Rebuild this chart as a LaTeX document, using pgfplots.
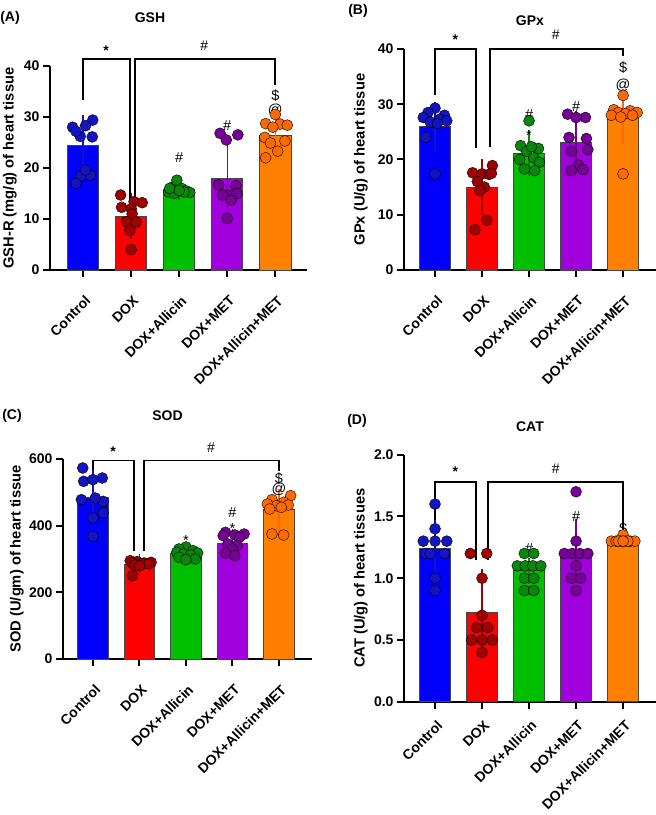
\documentclass[border=0pt]{standalone}
\usepackage{fontspec}
\setmainfont{Liberation Sans}
\usepackage{pgfplots}
\pgfplotsset{compat=1.18}

\definecolor{cblue}{RGB}{0,0,255}
\definecolor{dblue}{RGB}{20,20,195}
\definecolor{cred}{RGB}{255,0,0}
\definecolor{dred}{RGB}{160,0,0}
\definecolor{cgreen}{RGB}{0,190,0}
\definecolor{dgreen}{RGB}{10,135,10}
\definecolor{cpurple}{RGB}{160,0,220}
\definecolor{dpurple}{RGB}{120,0,150}
\definecolor{corange}{RGB}{255,128,0}
\definecolor{dorange}{RGB}{255,105,0}
\definecolor{edge}{RGB}{70,70,70}

\newcommand{\fs}{\fontsize{14}{16}\selectfont}
\newcommand{\fl}{\fontsize{14.7}{16}\selectfont}
\newcommand{\fa}{\fontsize{14.5}{16}\selectfont}

\pgfplotsset{
  panel/.style={
    scale only axis, anchor=south west, clip=false,
    axis x line*=bottom, axis y line*=left,
    axis line style={line width=2.1pt, black},
    every tick/.style={line width=2pt, black},
    tick align=outside, major tick length=7pt,
    xtick={0,1,2,3,4},
    xticklabels={Control,DOX,DOX+Allicin,DOX+MET,DOX+Allicin+MET},
    x tick label style={rotate=45, xshift=-10.6pt, yshift=-18.5pt, anchor=east, font=\bfseries\fs, inner sep=1pt},
    y tick label style={font=\bfseries\fs},
    /pgf/number format/assume math mode=true,
    ymin=0,
    title style={font=\bfseries\fs, anchor=center},
    every axis y label/.style={rotate=90, anchor=center, font=\bfseries\fl},
  },
  barA/.style={ybar, bar shift=0pt, bar width=0.65, draw=edge, line width=0.8pt},
  dots/.style={only marks, mark=*, mark size=5.5pt, mark options={draw=none, fill=#1}},
  err/.style={draw=none, mark=none, forget plot, error bars/.cd, y dir=both, y explicit,
     error bar style={line width=1.5pt, draw=#1}, error mark options={line width=1.5pt, draw=#1, mark size=7pt}},
}

\begin{document}
\begin{tikzpicture}
\useasboundingbox (0,0) rectangle (656pt,815pt);

% ---------------- (A) GSH
\begin{axis}[panel, at={(50pt,545pt)}, width=257pt, height=204pt,
  xmin=-0.69, xmax=4.66, ymax=40, ytick={0,10,20,30,40},
  title={GSH}, title style={at={(axis description cs:0.389,1.205)}},
  ylabel={GSH-R (mg/g) of heart tissue}, ylabel style={at={(axis description cs:-0.156,0.5)}}]
\addplot[barA, fill=cblue] coordinates {(0,24.4)};
\addplot[barA, fill=cred] coordinates {(1,10.6)};
\addplot[barA, fill=cgreen] coordinates {(2,15.8)};
\addplot[barA, fill=cpurple] coordinates {(3,17.9)};
\addplot[barA, fill=corange] coordinates {(4,26.3)};
\addplot[dots=dblue] coordinates {(-0.22,28.0) (0.20,29.4) (0.05,28.3) (-0.06,26.2) (0.19,26.1) (-0.15,27.2) (0.15,18.6) (-0.05,18.4) (-0.15,17.0) (0.05,19.6)};
\addplot[dots=dred] coordinates {(0.78,14.7) (1.06,13.4) (1.23,13.2) (0.80,12.3) (1.0,12.0) (1.02,11.0) (0.9,9.5) (1.1,9.4) (0.97,7.8) (1.0,4.0)};
\addplot[dots=dgreen] coordinates {(1.78,15.3) (1.85,16.2) (1.95,17.6) (2.05,16.0) (2.15,15.5) (2.22,15.2) (1.9,15.0) (2.1,15.3) (2.0,15.6) (1.8,16.0)};
\addplot[dots=dpurple] coordinates {(2.85,26.8) (3.22,26.5) (2.98,25.5) (2.82,16.7) (3.18,16.5) (3.0,14.7) (2.9,14.7) (3.2,15.0) (3.08,13.7) (3.0,10.1)};
\addplot[dots=dorange] coordinates {(4.0,30.5) (3.8,28.7) (4.1,28.6) (4.25,28.4) (3.95,28.0) (3.78,26.0) (4.2,25.3) (3.9,24.9) (4.05,23.3) (3.8,22.0)};
\addplot[err=dblue] coordinates {(0,24.4) +- (0,4.7)};
\addplot[err=dred] coordinates {(1,10.6) +- (0,3.2)};
\addplot[err=dgreen] coordinates {(2,15.8) +- (0,0.8)};
\addplot[err=dpurple] coordinates {(3,17.9) +- (0,6.0)};
\addplot[err=dorange] coordinates {(4,26.3) +- (0,3.4)};
\draw[line width=1.6pt] (axis cs:0,33.3) -- (axis cs:0,41.4) -- (axis cs:0.98,41.4) -- (axis cs:0.98,13.7);
\draw[line width=1.6pt] (axis cs:1.08,13.7) -- (axis cs:1.08,41.4) -- (axis cs:4,41.4) -- (axis cs:4,36.3);
\node[font=\bfseries\fs] at (axis cs:0.48,43.0) {*};
\node[font=\fs] at (axis cs:2.52,43.9) {\#};
\node[font=\fa] at (axis cs:2,22) {\#};
\node[font=\fa] at (axis cs:2,17.6) {*};
\node[font=\fa] at (axis cs:3,28.4) {\#};
\node[font=\fa] at (axis cs:3,24.8) {*};
\node[font=\fa] at (axis cs:4,31.4) {@};
\node[font=\fa] at (axis cs:4,34.2) {\$};
\end{axis}

% ---------------- (B) GPx
\begin{axis}[panel, at={(404pt,545pt)}, width=252pt, height=221pt,
  xmin=-0.66, xmax=4.70, ymax=40, ytick={0,10,20,30,40},
  title={GPx}, title style={at={(axis description cs:0.5,1.10)}},
  ylabel={GPx (U/g) of heart tissue}, ylabel style={at={(axis description cs:-0.171,0.5)}}]
\addplot[barA, fill=cblue] coordinates {(0,26.0)};
\addplot[barA, fill=cred] coordinates {(1,15.0)};
\addplot[barA, fill=cgreen] coordinates {(2,21.1)};
\addplot[barA, fill=cpurple] coordinates {(3,23.1)};
\addplot[barA, fill=corange] coordinates {(4,27.8)};
\addplot[dots=dblue] coordinates {(0.0,29.3) (-0.15,28.5) (0.2,28.0) (-0.25,27.6) (0.1,27.3) (0.25,27.0) (-0.1,26.8) (0.05,26.5) (-0.2,24.0) (0.0,17.4)};
\addplot[dots=dred] coordinates {(1.22,18.9) (0.8,17.6) (1.0,17.4) (1.15,17.3) (0.9,16.0) (1.05,15.0) (0.95,14.4) (1.1,9.0) (0.85,7.3) (1.2,17.5)};
\addplot[dots=dgreen] coordinates {(2.0,27.0) (1.82,22.5) (2.2,22.0) (1.95,21.5) (2.1,20.3) (1.8,20.0) (2.22,19.5) (1.9,18.3) (2.12,18.0) (2.05,22.3)};
\addplot[dots=dpurple] coordinates {(2.82,28.2) (3.2,27.6) (3.0,27.6) (2.85,24.0) (3.22,23.8) (3.25,21.8) (2.9,21.5) (3.05,19.0) (2.9,18.0) (3.15,18.2)};
\addplot[dots=dorange] coordinates {(4.0,31.6) (3.8,29.0) (4.15,28.8) (4.3,28.5) (3.9,28.5) (4.05,28.3) (3.75,28.0) (4.2,28.0) (3.95,27.7) (4.0,17.4)};
\addplot[err=dblue] coordinates {(0,26.0) +- (0,3.2)};
\addplot[err=dred] coordinates {(1,15.0) +- (0,3.8)};
\addplot[err=dgreen] coordinates {(2,21.1) +- (0,2.9)};
\addplot[err=dpurple] coordinates {(3,23.1) +- (0,4.4)};
\addplot[err=dorange] coordinates {(4,27.8) +- (0,3.7)};
\draw[line width=1.6pt] (axis cs:0,31.7) -- (axis cs:0,40) -- (axis cs:0.87,40) -- (axis cs:0.87,22);
\draw[line width=1.6pt] (axis cs:1.17,22.3) -- (axis cs:1.17,40) -- (axis cs:4,40) -- (axis cs:4,38.8);
\node[font=\bfseries\fs] at (axis cs:0.43,41.6) {*};
\node[font=\fs] at (axis cs:2.57,42.5) {\#};
\node[font=\fa] at (axis cs:2,28.1) {\#};
\node[font=\fa] at (axis cs:2,24.3) {*};
\node[font=\fa] at (axis cs:3,29.6) {\#};
\node[font=\fa] at (axis cs:4,33.5) {@};
\node[font=\fa] at (axis cs:4,36.6) {\$};
\end{axis}

% ---------------- (C) SOD
\begin{axis}[panel, at={(63pt,156pt)}, width=249pt, height=200pt,
  xmin=-0.645, xmax=4.71, ymax=600, ytick={0,200,400,600},
  title={SOD}, title style={at={(axis description cs:0.42,1.185)}},
  ylabel={SOD (U/gm) of heart tissue}, ylabel style={at={(axis description cs:-0.185,0.5)}}]
\addplot[barA, fill=cblue] coordinates {(0,485)};
\addplot[barA, fill=cred] coordinates {(1,285)};
\addplot[barA, fill=cgreen] coordinates {(2,316)};
\addplot[barA, fill=cpurple] coordinates {(3,348)};
\addplot[barA, fill=corange] coordinates {(4,448)};
\addplot[dots=dblue] coordinates {(-0.22,573) (0.2,543) (-0.2,533) (0.0,538) (-0.25,478) (0.22,473) (0.05,483) (0.22,438) (0.0,423) (0.0,368)};
\addplot[dots=dred] coordinates {(0.8,295) (0.95,292) (1.25,290) (1.1,288) (0.85,288) (1.05,286) (1.2,285) (0.9,282) (1.0,280) (0.85,250)};
\addplot[dots=dgreen] coordinates {(2.0,336) (1.85,330) (2.15,325) (1.8,320) (2.25,318) (1.95,315) (2.1,312) (1.85,305) (2.2,300) (2.0,298)};
\addplot[dots=dpurple] coordinates {(2.85,380) (3.25,375) (3.05,372) (2.8,370) (3.15,365) (2.9,345) (3.1,340) (3.0,330) (2.85,318) (3.05,310)};
\addplot[dots=dorange] coordinates {(4.25,490) (3.85,478) (4.1,470) (3.75,465) (4.2,462) (3.95,460) (4.05,455) (3.8,450) (3.85,375) (4.1,372)};
\addplot[err=dblue] coordinates {(0,485) +- (0,62)};
\addplot[err=dred] coordinates {(1,285) +- (0,10)};
\addplot[err=dgreen] coordinates {(2,316) +- (0,15)};
\addplot[err=dpurple] coordinates {(3,348) +- (0,20)};
\addplot[err=dorange] coordinates {(4,448) +- (0,42)};
\draw[line width=1.6pt] (axis cs:0,568) -- (axis cs:0,596) -- (axis cs:0.88,596) -- (axis cs:0.88,323);
\draw[line width=1.6pt] (axis cs:1.1,323) -- (axis cs:1.1,596) -- (axis cs:4,596) -- (axis cs:4,563);
\node[font=\bfseries\fs] at (axis cs:0.43,622) {*};
\node[font=\fs] at (axis cs:2.54,633) {\#};
\node[font=\fa] at (axis cs:2,356) {*};
\node[font=\fa] at (axis cs:3,438) {\#};
\node[font=\fa] at (axis cs:3,391) {*};
\node[font=\fa] at (axis cs:4,508) {@};
\node[font=\fa] at (axis cs:4,540) {\$};
\end{axis}

% ---------------- (D) CAT
\begin{axis}[panel, at={(404pt,113.3pt)}, width=252pt, height=247pt,
  xmin=-0.66, xmax=4.70, ymax=2, ytick={0,0.5,1,1.5,2},
  x tick label style={xshift=5pt, yshift=5pt},
  yticklabel style={/pgf/number format/.cd, fixed, fixed zerofill, precision=1},
  title={CAT}, title style={at={(axis description cs:0.5,1.088)}},
  ylabel={CAT (U/g) of heart tissues}, ylabel style={at={(axis description cs:-0.171,0.5)}}]
\addplot[barA, fill=cblue] coordinates {(0,1.24)};
\addplot[barA, fill=cred] coordinates {(1,0.72)};
\addplot[barA, fill=cgreen] coordinates {(2,1.06)};
\addplot[barA, fill=cpurple] coordinates {(3,1.22)};
\addplot[barA, fill=corange] coordinates {(4,1.31)};
\addplot[dots=dblue] coordinates {(0.0,1.6) (0.0,1.4) (-0.25,1.3) (0.0,1.3) (0.25,1.3) (-0.2,1.2) (0.2,1.2) (0.0,1.0) (0.0,0.9) (-0.1,1.2)};
\addplot[dots=dred] coordinates {(0.75,1.2) (1.1,1.2) (1.0,1.0) (1.0,0.7) (0.88,0.6) (1.12,0.6) (0.78,0.5) (1.0,0.5) (1.22,0.5) (1.0,0.4)};
\addplot[dots=dgreen] coordinates {(1.9,1.2) (2.1,1.2) (1.75,1.1) (1.92,1.1) (2.08,1.1) (2.25,1.1) (1.9,1.0) (2.1,1.0) (1.9,0.9) (2.1,0.9)};
\addplot[dots=dpurple] coordinates {(3.0,1.7) (3.0,1.3) (2.75,1.2) (2.92,1.2) (3.08,1.2) (3.25,1.2) (3.0,1.1) (2.9,1.0) (3.1,1.0) (3.0,0.9)};
\addplot[dots=dorange] coordinates {(4.0,1.35) (3.75,1.3) (3.85,1.3) (3.95,1.3) (4.05,1.3) (4.15,1.3) (4.25,1.3) (3.9,1.3) (4.1,1.3) (4.0,1.3)};
\addplot[err=dblue] coordinates {(0,1.24) +- (0,0.2)};
\addplot[err=dred] coordinates {(1,0.72) +- (0,0.3)};
\addplot[err=dgreen] coordinates {(2,1.06) +- (0,0.05)};
\addplot[err=dpurple] coordinates {(3,1.22) +- (0,0.2)};
\addplot[err=dorange] coordinates {(4,1.31) +- (0,0.02)};
\draw[line width=1.6pt] (axis cs:0,1.47) -- (axis cs:0,1.78) -- (axis cs:0.87,1.78) -- (axis cs:0.87,1.15);
\draw[line width=1.6pt] (axis cs:1.13,1.15) -- (axis cs:1.13,1.78) -- (axis cs:4,1.78) -- (axis cs:4,1.34);
\node[font=\bfseries\fs] at (axis cs:0.43,1.86) {*};
\node[font=\fs] at (axis cs:2.57,1.89) {\#};
\node[font=\fa] at (axis cs:2,1.24) {\#};
\node[font=\fa] at (axis cs:3,1.5) {\#};
\node[font=\fa] at (axis cs:4,1.405) {\$};
\end{axis}

\node[font=\bfseries\fs] at (10pt,797pt) {(A)};
\node[font=\bfseries\fs] at (358pt,804pt) {(B)};
\node[font=\bfseries\fs] at (12pt,399pt) {(C)};
\node[font=\bfseries\fs] at (357pt,394pt) {(D)};
\end{tikzpicture}
\end{document}
